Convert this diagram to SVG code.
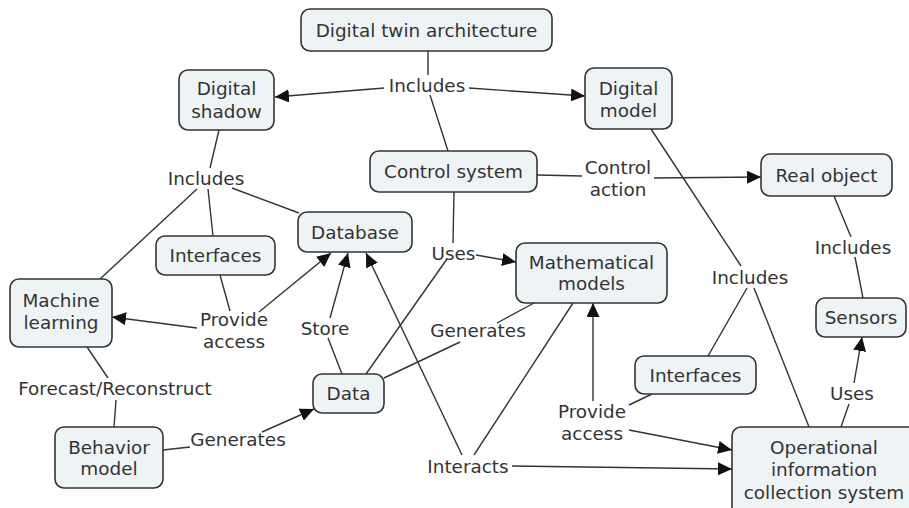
<svg xmlns="http://www.w3.org/2000/svg" width="909" height="508" viewBox="0 0 909 508">
<defs>
<marker id="ah" markerUnits="userSpaceOnUse" markerWidth="15" markerHeight="13" refX="14" refY="6.5" orient="auto">
<path d="M0,0 L14,6.5 L0,13 z" fill="#111"/>
</marker>
<style>
.n rect{fill:#eef3f6;stroke:#333;stroke-width:1.6}
text{font-family:"DejaVu Sans",Verdana,sans-serif;font-size:18.4px;fill:#333;text-anchor:middle}
#connectors line{stroke:#333;stroke-width:1.4;fill:none}
.a{marker-end:url(#ah)}
</style>
</defs>
<rect width="909" height="508" fill="#fff"/>
<g id="connectors">
<line x1="428" y1="51" x2="428" y2="75"/>
<line class="a" x1="384" y1="88" x2="275" y2="97"/>
<line class="a" x1="469" y1="88" x2="585" y2="96"/>
<line x1="430" y1="95" x2="448" y2="151"/>
<line x1="219" y1="130" x2="210" y2="168"/>
<line x1="232" y1="188" x2="299" y2="213"/>
<line x1="208" y1="189" x2="213" y2="236"/>
<line x1="197" y1="189" x2="100" y2="279"/>
<line x1="220" y1="275" x2="230" y2="311"/>
<line class="a" x1="197" y1="328" x2="112" y2="317"/>
<line class="a" x1="259" y1="312" x2="331" y2="253"/>
<line x1="342" y1="374" x2="328" y2="338"/>
<line class="a" x1="330" y1="318" x2="348" y2="253"/>
<line x1="366" y1="374" x2="447" y2="259"/>
<line x1="454" y1="192" x2="453" y2="243"/>
<line class="a" x1="476" y1="255" x2="516" y2="262"/>
<line x1="384" y1="378" x2="460" y2="342"/>
<line x1="497" y1="323" x2="534" y2="303"/>
<line x1="573" y1="303" x2="474" y2="455"/>
<line class="a" x1="462" y1="455" x2="366" y2="253"/>
<line class="a" x1="512" y1="466" x2="732" y2="469"/>
<line class="a" x1="593" y1="401" x2="593" y2="303"/>
<line x1="652" y1="394" x2="629" y2="405"/>
<line class="a" x1="629" y1="430" x2="732" y2="450"/>
<line x1="708" y1="356" x2="747" y2="288"/>
<line x1="754" y1="288" x2="809" y2="427"/>
<line x1="651" y1="129" x2="741" y2="266"/>
<line x1="537" y1="175" x2="582" y2="176"/>
<line class="a" x1="654" y1="178" x2="761" y2="177"/>
<line x1="834" y1="196" x2="851" y2="237"/>
<line x1="855" y1="257" x2="863" y2="298"/>
<line x1="841" y1="427" x2="849" y2="404"/>
<line class="a" x1="854" y1="383" x2="862" y2="337"/>
<line x1="87" y1="347" x2="108" y2="378"/>
<line x1="116" y1="400" x2="114" y2="427"/>
<line x1="163" y1="450" x2="190" y2="447"/>
<line class="a" x1="262" y1="432" x2="314" y2="409"/>
</g>
<g id="labels">
<text x="427" y="91.5">Includes</text>
<text x="206" y="184.5">Includes</text>
<text x="618" y="173.5">Control</text>
<text x="618" y="195.5">action</text>
<text x="453.5" y="259.5">Uses</text>
<text x="853" y="253.5">Includes</text>
<text x="750" y="283.5">Includes</text>
<text x="234" y="325.5">Provide</text>
<text x="234" y="347.5">access</text>
<text x="325" y="334.5">Store</text>
<text x="478" y="336.5">Generates</text>
<text x="115" y="394.5">Forecast/Reconstruct</text>
<text x="238" y="445.5">Generates</text>
<text x="468" y="472.5">Interacts</text>
<text x="592" y="417.5">Provide</text>
<text x="592" y="439.5">access</text>
<text x="852" y="399.5">Uses</text>
</g>
<g id="dta" class="n"><rect x="301" y="9" width="251" height="42" rx="9"/><text x="426.5" y="36.5">Digital twin architecture</text></g>
<g id="shadow" class="n"><rect x="179" y="70" width="95" height="60" rx="9"/><text x="226.5" y="95">Digital</text><text x="226.5" y="118">shadow</text></g>
<g id="dmodel" class="n"><rect x="585" y="68" width="87" height="61" rx="9"/><text x="628.5" y="94.5">Digital</text><text x="628.5" y="116.5">model</text></g>
<g id="control" class="n"><rect x="370" y="151" width="167" height="41" rx="9"/><text x="453.5" y="178">Control system</text></g>
<g id="real" class="n"><rect x="761" y="154" width="131" height="42" rx="9"/><text x="826.5" y="181.5">Real object</text></g>
<g id="database" class="n"><rect x="298" y="212" width="114" height="40" rx="9"/><text x="355" y="238.5">Database</text></g>
<g id="interfaces1" class="n"><rect x="156" y="236" width="119" height="39" rx="9"/><text x="215.5" y="262">Interfaces</text></g>
<g id="math" class="n"><rect x="516" y="243" width="151" height="60" rx="9"/><text x="591.5" y="268.5">Mathematical</text><text x="591.5" y="290">models</text></g>
<g id="ml" class="n"><rect x="10" y="279" width="102" height="68" rx="9"/><text x="61" y="306.5">Machine</text><text x="61" y="328.5">learning</text></g>
<g id="data" class="n"><rect x="313" y="374" width="71" height="39" rx="9"/><text x="348.5" y="400">Data</text></g>
<g id="behavior" class="n"><rect x="55" y="427" width="108" height="61" rx="9"/><text x="109" y="453.5">Behavior</text><text x="109" y="474.5">model</text></g>
<g id="interfaces2" class="n"><rect x="635" y="356" width="121" height="38" rx="9"/><text x="695.5" y="381.5">Interfaces</text></g>
<g id="sensors" class="n"><rect x="816" y="298" width="90" height="39" rx="9"/><text x="861" y="324">Sensors</text></g>
<g id="oper" class="n"><rect x="732" y="427" width="186" height="100" rx="9"/><text x="824" y="453.5">Operational</text><text x="824" y="476">information</text><text x="824" y="498.5">collection system</text></g>
</svg>
